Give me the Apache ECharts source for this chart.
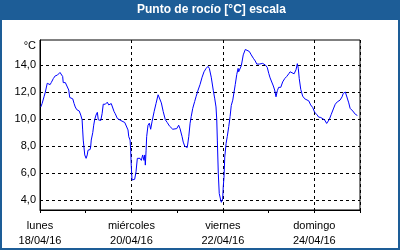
<!DOCTYPE html>
<html>
<head>
<meta charset="utf-8">
<script src="https://cdn.jsdelivr.net/npm/echarts@6/dist/echarts.min.js"></script>
<style>
html,body{margin:0;padding:0;background:#fff;}
#c{width:400px;height:250px;}
</style>
</head>
<body>
<div id="c"></div>
<script>
// Hours since 18/04/16 00:00
var hours = [0.4,1.1,2.1,2.8,3.8,4.6,5.3,5.9,7.0,8.0,9.1,9.8,10.5,11.2,11.9,12.2,13.3,14.3,15.1,15.6,16.4,17.2,17.9,18.5,19.3,20.0,20.6,21.4,22.1,22.4,22.7,23.5,24.2,24.8,25.2,26.3,26.6,26.9,27.7,28.2,28.7,29.4,30.1,30.6,31.1,31.9,32.6,33.2,34.3,35.3,36.1,36.8,37.4,38.2,38.9,39.5,40.6,41.3,42.4,43.4,44.5,45.5,46.2,46.6,47.3,47.6,47.9,48.3,49.0,49.7,50.4,51.1,51.8,52.5,53.2,53.9,54.6,55.0,55.3,55.7,56.0,56.7,57.4,58.1,58.8,59.9,60.9,62.0,62.6,63.7,64.7,65.8,66.8,67.9,68.9,69.7,70.7,71.8,72.8,73.5,74.6,75.2,76.0,76.7,77.3,78.1,78.8,79.4,80.2,81.2,81.9,83.0,84.0,85.1,86.1,87.2,88.2,88.9,89.9,91.0,91.7,92.4,92.8,93.1,93.6,94.1,94.9,95.2,95.9,96.2,96.6,97.0,97.7,98.3,99.1,99.8,100.4,101.2,101.9,102.5,103.3,104.0,104.3,105.0,105.7,106.7,107.8,108.8,109.9,110.9,112.0,113.0,113.8,115.1,116.9,118.3,119.3,120.1,120.8,121.8,122.5,123.2,123.9,124.6,125.3,126.4,127.4,128.5,129.5,130.6,131.3,132.1,133.4,134.4,135.1,135.6,136.1,136.9,137.9,139.0,140.0,141.1,142.1,143.2,144.2,145.3,146.3,147.4,148.4,149.5,150.5,151.2,151.9,152.9,154.0,155.0,156.1,157.5,158.6,159.2,160.3,161.3,162.1,162.8,163.4,164.2,164.9,165.6,166.6];
var dewPoint = [10.9,11.15,11.65,12.0,12.65,12.75,12.55,12.7,13.0,13.2,13.25,13.3,13.45,13.5,13.15,12.7,12.7,12.75,12.15,11.6,11.65,11.5,11.15,10.9,10.7,10.7,10.6,10.3,9.95,9.2,8.45,7.35,7.1,7.35,7.7,7.75,7.95,8.45,9.0,9.55,9.95,10.3,10.5,9.95,10.05,9.9,10.4,11.1,11.1,11.25,11.05,10.95,11.15,11.25,10.55,10.4,10.05,10.0,9.9,9.8,9.75,9.7,9.2,8.7,8.45,7.7,6.6,5.5,5.4,5.55,6.1,7.1,7.15,7.1,6.95,7.35,6.95,7.35,6.6,7.7,8.7,9.55,9.7,9.25,9.8,10.55,11.15,11.8,11.75,11.2,10.55,9.95,9.75,9.5,9.4,9.25,9.15,9.3,9.55,9.3,8.7,8.3,8.0,8.0,7.9,8.7,9.7,10.2,10.8,11.3,11.65,12.15,12.55,13.1,13.5,13.75,13.9,13.75,13.1,12.1,11.55,10.9,9.95,8.45,6.0,4.5,4.0,3.85,4.1,5.0,5.7,7.2,8.2,8.7,9.45,10.2,11.0,11.4,11.45,12.55,13.3,13.75,13.5,13.4,13.95,14.75,15.15,15.1,15.0,14.75,14.5,14.3,14.07,14.07,14.12,14.0,13.83,13.38,13.05,13.0,12.45,12.15,11.65,12.1,12.35,12.35,12.75,13.0,13.15,13.35,13.5,13.38,13.35,13.65,14.1,13.75,13.0,12.2,11.7,11.5,11.45,11.35,11.05,10.85,10.5,10.35,10.15,10.12,10.05,9.93,9.68,9.63,9.98,10.35,10.75,11.1,11.28,11.4,11.65,11.9,12.0,12.02,11.2,10.8,10.67,10.6,10.47,10.35,10.27];
var dayNames = ['lunes','miércoles','viernes','domingo'];
var dayDates = ['18/04/16','20/04/16','22/04/16','24/04/16'];
var yTicks = [4,6,8,10,12,14];

var FONT = '"Liberation Sans", Arial, sans-serif';
var BLUE = '#1d5d97';
var seriesData = hours.map(function(h,i){ return [h, dewPoint[i]]; });

var chart = echarts.init(document.getElementById('c'), null, {renderer:'canvas'});
chart.setOption({
  animation: false,
  backgroundColor: '#fff',
  graphic: [
    {type:'rect', z:0, shape:{x:0,y:0,width:400,height:20}, style:{fill:BLUE}},
    {type:'rect', z:0, shape:{x:1,y:1,width:398,height:248}, style:{fill:null, stroke:BLUE, lineWidth:2}}
  ],
  title: {
    text: 'Punto de rocío [°C] escala',
    left: 137, top: 3, padding: 0,
    textStyle: {color:'#fff', fontFamily: FONT, fontSize: 12, fontWeight:'bold', lineHeight: 14}
  },
  grid: {left:40, top:40, width:320, height:170, show:true, borderColor:'#000', borderWidth:1, backgroundColor:'#fff'},
  xAxis: [{
    type:'value', min:0, max:168, interval:24,
    axisLine:{show:true, lineStyle:{color:'#000', width:1}},
    axisTick:{show:true, length:3, lineStyle:{color:'#000'}},
    splitLine:{show:false},
    axisLabel:{
      margin:8, color:'#000', fontFamily:FONT, fontSize:11, lineHeight:15,
      formatter:function(v){
        if (v % 48 === 0 && v < 168) { var i = v/48; return dayNames[i] + '\n' + dayDates[i]; }
        return '';
      }
    }
  },{
    type:'value', min:0, max:168, interval:48, position:'top',
    axisLine:{show:false}, axisTick:{show:false}, axisLabel:{show:false},
    splitLine:{show:true, lineStyle:{color:'#000', width:1, type:[3,3]}}
  }],
  yAxis: {
    type:'value', min:3.28, max:15.85,
    name:'°C', nameLocation:'end', nameGap:-6,
    nameTextStyle:{color:'#000', fontFamily:FONT, fontSize:11, align:'right', verticalAlign:'middle', padding:[0,4,0,0]},
    axisLine:{show:true, lineStyle:{color:'#000', width:1}},
    axisTick:{show:false, customValues: yTicks},
    splitLine:{show:true, lineStyle:{color:'#000', width:1, type:[3,3]}},
    axisLabel:{
      customValues: yTicks,
      margin:4, color:'#000', fontFamily:FONT, fontSize:11,
      formatter:function(v){ return v.toFixed(1).replace('.', ','); }
    }
  },
  series: [{
    type:'line', xAxisIndex:0, data: seriesData, showSymbol:false, symbol:'none',
    lineStyle:{color:'#0000ff', width:1}, z:5
  }]
});
</script>
</body>
</html>
